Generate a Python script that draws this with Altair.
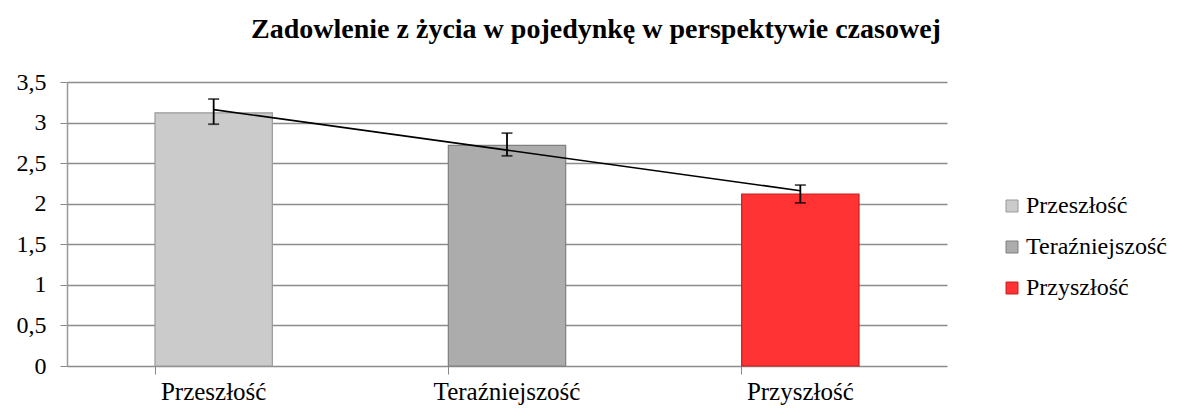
import altair as alt
import pandas as pd

categories = ["Przeszłość", "Teraźniejszość", "Przyszłość"]
values = [3.12, 2.72, 2.12]
err_low = [2.98, 2.59, 2.01]
err_high = [3.29, 2.87, 2.23]
trend = [3.16, 2.66, 2.16]
colors = ["#cbcbcb", "#acacac", "#ff3333"]
strokes = ["#9a9a9a", "#7f7f7f", "#c42020"]

df = pd.DataFrame({
    "cat": categories, "val": values, "lo": err_low, "hi": err_high, "trend": trend,
})

FONT = "Liberation Serif"

x = alt.X("cat:N", sort=categories, title=None,
          scale=alt.Scale(paddingInner=0.6, paddingOuter=0.3),
          axis=alt.Axis(labelAngle=0, labelFontSize=25, labelFont=FONT, labelColor="#000",
                        tickSize=8, tickColor="#888", bandPosition=0, labelPadding=5,
                        domain=False))
y_scale = alt.Scale(domain=[0, 3.5], nice=False)

bars = alt.Chart(df).mark_bar(strokeWidth=1.2).encode(
    x=x,
    y=alt.Y("val:Q", scale=y_scale, title=None,
            axis=alt.Axis(values=[0, 0.5, 1, 1.5, 2, 2.5, 3, 3.5],
                          labelExpr="replace(format(datum.value, ''), '.', ',')",
                          labelFontSize=24, labelFont=FONT, labelColor="#000",
                          tickSize=7, tickColor="#888", labelPadding=14,
                          domainColor="#999", domainWidth=1.5,
                          grid=True, gridColor="#8c8c8c", gridWidth=1.5)),
    fill=alt.Fill("cat:N", sort=categories, scale=alt.Scale(domain=categories, range=colors),
                  legend=alt.Legend(title=None, orient="none", legendX=933, legendY=112,
                                    labelFont=FONT, labelFontSize=24, labelColor="#000",
                                    symbolType="square", symbolSize=144, symbolStrokeWidth=1,
                                    rowPadding=17, labelOffset=2)),
    stroke=alt.Stroke("cat:N", sort=categories, scale=alt.Scale(domain=categories, range=strokes),
                      legend=None),
)

line = alt.Chart(df).mark_line(color="#000", strokeWidth=1.6).encode(
    x=alt.X("cat:N", sort=categories), y=alt.Y("trend:Q", scale=y_scale))

rules = alt.Chart(df).mark_rule(color="#000", strokeWidth=1.8).encode(
    x=alt.X("cat:N", sort=categories), y=alt.Y("lo:Q", scale=y_scale), y2="hi:Q")
cap_lo = alt.Chart(df).mark_tick(color="#000", size=11, thickness=1.8, orient="horizontal").encode(
    x=alt.X("cat:N", sort=categories), y=alt.Y("lo:Q", scale=y_scale))
cap_hi = alt.Chart(df).mark_tick(color="#000", size=11, thickness=1.8, orient="horizontal").encode(
    x=alt.X("cat:N", sort=categories), y=alt.Y("hi:Q", scale=y_scale))

chart = alt.layer(bars, line, rules, cap_lo, cap_hi).properties(
    width=880, height=284,
    autosize=alt.AutoSizeParams(type="none"),
    padding={"left": 59, "top": 74, "right": 226, "bottom": 40},
    title=alt.TitleParams("Zadowlenie z życia w pojedynkę w perspektywie czasowej",
                          font=FONT, fontSize=28, fontWeight="bold", color="#000",
                          anchor="middle", dx=89, offset=26),
    background="white",
).configure_view(stroke=None)

chart.save("out.html", embed_options={"renderer": "svg", "actions": False})
